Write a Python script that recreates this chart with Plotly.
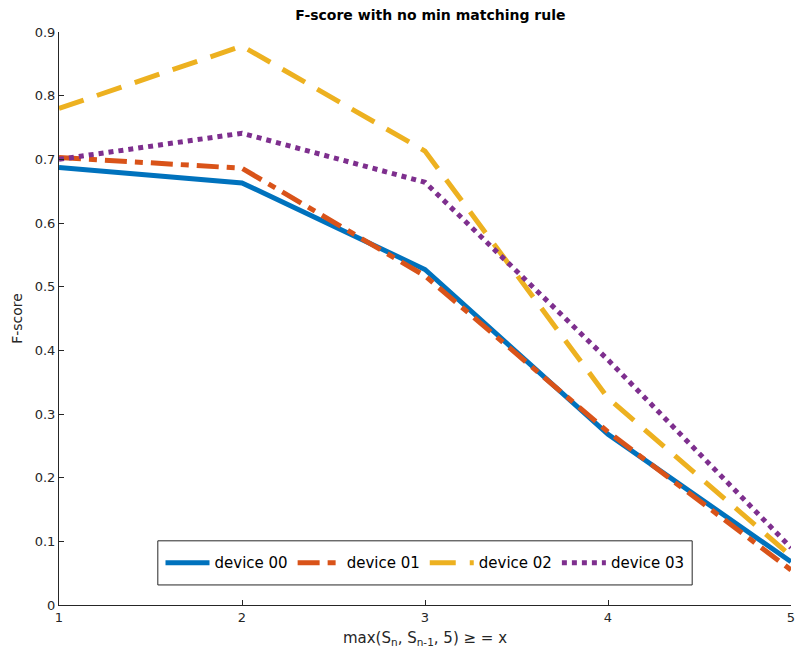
import plotly.graph_objects as go

x_vals = [1, 2, 3, 4, 5]
device00 = [0.687, 0.663, 0.527, 0.268, 0.068]
device01 = [0.703, 0.686, 0.517, 0.272, 0.055]
device02 = [0.780, 0.878, 0.713, 0.325, 0.077]
device03 = [0.700, 0.741, 0.664, 0.385, 0.090]
names = ["device 00", "device 01", "device 02", "device 03"]
colors = ["#0072BD", "#D95319", "#EDB120", "#7E2F8E"]
dashes = ["solid", "22px,8px,8px,8px", "26px,14px", "5px,5px"]
y_ticks = [0, 0.1, 0.2, 0.3, 0.4, 0.5, 0.6, 0.7, 0.8, 0.9]

fig = go.Figure()
for name, ys, c, d in zip(names, [device00, device01, device02, device03], colors, dashes):
    fig.add_trace(go.Scatter(x=x_vals, y=ys, mode="lines", name=name,
                             line=dict(color=c, width=5, dash=d)))

# legend box drawn as a shape (paper coordinates)
fig.add_shape(type="rect", xref="paper", yref="paper", x0=0.135, x1=0.865, y0=0.035, y1=0.112,
              line=dict(color="#262626", width=1), fillcolor="white", layer="above")

font = "DejaVu Sans"
fig.update_layout(
    width=797, height=654,
    margin=dict(l=59, r=6, t=32, b=49, autoexpand=False),
    paper_bgcolor="white", plot_bgcolor="white",
    font=dict(family=font, size=13, color="#262626"),
    title=dict(text="<b>F-score with no min matching rule</b>", x=0.54, xanchor="center",
               y=0.985, yanchor="top", font=dict(size=14, color="black")),
    xaxis=dict(range=[1, 5], tickvals=x_vals, ticks="inside", ticklen=5, tickcolor="#262626",
               showline=True, linecolor="#262626", linewidth=1, showgrid=False, zeroline=False,
               automargin=False,
               title=dict(text="max(S<sub>n</sub>, S<sub>n-1</sub>, 5) ≥ = x", standoff=8,
                          font=dict(size=15))),
    yaxis=dict(range=[0, 0.9], tickvals=y_ticks, ticktext=[("%g" % v) for v in y_ticks],
               ticks="inside", ticklen=5, tickcolor="#262626", automargin=False,
               showline=True, linecolor="#262626", linewidth=1, showgrid=False, zeroline=False,
               title=dict(text="F-score", standoff=8, font=dict(size=14))),
    legend=dict(orientation="h", x=0.5, xanchor="center", y=0.0735, yanchor="middle",
                borderwidth=0, bgcolor="rgba(0,0,0,0)",
                font=dict(size=15, color="black"), itemwidth=44, tracegroupgap=0,
                valign="middle"),
    showlegend=True,
)
fig.write_html("out.html")
